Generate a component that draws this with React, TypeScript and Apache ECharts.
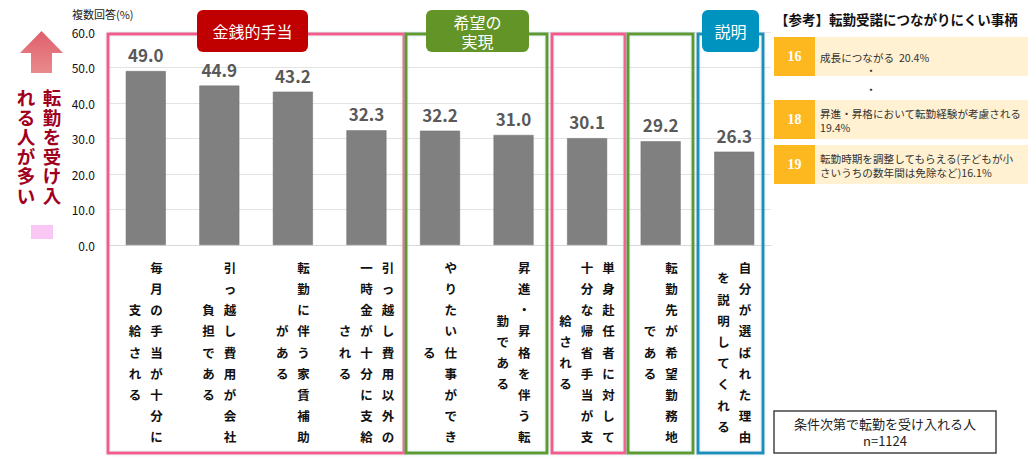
import React, { useEffect, useRef } from "react";
import * as echarts from "echarts";

const FONT = "'Noto Sans CJK JP', 'Noto Sans', sans-serif";

const CATEGORIES = [
  "毎月の手当が十分に支給される",
  "引っ越し費用が会社負担である",
  "転勤に伴う家賃補助がある",
  "引っ越し費用以外の一時金が十分に支給される",
  "やりたい仕事ができる",
  "昇進・昇格を伴う転勤である",
  "単身赴任者に対して十分な帰省手当が支給される",
  "転勤先が希望勤務地である",
  "自分が選ばれた理由を説明してくれる",
];
const VALUES = [49.0, 44.9, 43.2, 32.3, 32.2, 31.0, 30.1, 29.2, 26.3];

const GROUP_LABELS = ["金銭的手当", "希望の\n実現", "説明"];
const REF_TITLE = "【参考】転勤受諾につながりにくい事柄";
const REF_RANKS = ["16", "18", "19"];
const REF_TEXTS = [
  "成長につながる  20.4%",
  "昇進・昇格において転勤経験が考慮される\n19.4%",
  "転勤時期を調整してもらえる(子どもが小\nさいうちの数年間は免除など)16.1%",
];
const NOTE_TEXT = "条件次第で転勤を受け入れる人\nn=1124";
const SIDE_TEXT = ["転勤を受け入", "れる人が多い"];

// vertical writing: 9 chars per column, right column first, short columns centred
const COL_LEN = 9;
const toVertical = (s: string) => {
  const chars = Array.from(s);
  const cols: string[][] = [];
  for (let i = 0; i < chars.length; i += COL_LEN) cols.push(chars.slice(i, i + COL_LEN));
  const lines: string[] = [];
  for (let h = 0; h < COL_LEN * 2 - 1; h++) {
    let line = "";
    for (let c = cols.length - 1; c >= 0; c--) {
      const col = cols[c];
      const off = h - (COL_LEN - col.length);
      const ch = off >= 0 && off % 2 === 0 && off / 2 < col.length ? col[off / 2] : "\u3000";
      line += `{c|${ch}}`;
    }
    lines.push(line);
  }
  return lines.join("\n");
};

// frames round the category groups: [x, width, colour]
const FRAMES: [number, number, string][] = [
  [108, 296, "#f45a8d"],
  [406, 141, "#5f9a2a"],
  [552, 73, "#f45a8d"],
  [628, 65, "#5f9a2a"],
  [698, 65, "#1a90bd"],
];
const BADGES: [number, number, string][] = [
  [197, 111, "#c00000"],
  [426, 103, "#639427"],
  [702, 57, "#0093bf"],
];
const REF_ROWS_Y = [37, 100, 145];

export default function App() {
  const chartRef = useRef<HTMLDivElement>(null);

  useEffect(() => {
    if (!chartRef.current) return;
    const chart = echarts.init(chartRef.current, undefined, { renderer: "svg" });

    const graphic: any[] = [];
    FRAMES.forEach(([x, w, color]) => {
      graphic.push({
        type: "rect", z: 10,
        shape: { x, y: 34, width: w, height: 419 },
        style: { fill: "none", stroke: color, lineWidth: 3, shadowBlur: 3, shadowColor: "rgba(180,220,220,0.6)" },
      });
    });
    BADGES.forEach(([x, w, color], i) => {
      graphic.push({
        type: "rect", z: 20,
        shape: { x, y: 10, width: w, height: 42, r: 6 },
        style: { fill: color },
      });
      graphic.push({
        type: "text", z: 21, x: x + w / 2, y: 31,
        style: {
          text: GROUP_LABELS[i], fill: "#fff", font: `16px ${FONT}`, lineHeight: 19,
          textAlign: "center", textVerticalAlign: "middle",
        },
      });
    });

    // left side arrow and caption
    graphic.push({
      type: "polygon",
      shape: { points: [[20, 53], [41.5, 31], [63, 53], [52, 53], [52, 73], [31, 73], [31, 53]] },
      style: {
        fill: new echarts.graphic.LinearGradient(0, 0, 0, 1, [
          { offset: 0, color: "#df5f6c" },
          { offset: 1, color: "#e98a8c" },
        ]),
      },
    });
    SIDE_TEXT.forEach((t, i) => {
      graphic.push({
        type: "text", x: i === 0 ? 52 : 26, y: 87.5,
        style: {
          text: Array.from(t).join("\n"), fill: "#a0001e", font: `bold 18.5px ${FONT}`,
          lineHeight: 19.5, textAlign: "center",
          textShadowColor: "rgba(110,70,200,0.55)", textShadowOffsetX: 1, textShadowOffsetY: 1,
        },
      });
    });
    graphic.push({ type: "rect", shape: { x: 31, y: 225, width: 22, height: 14 }, style: { fill: "#fac6f4" } });
    graphic.push({
      type: "text", x: 72, y: 14,
      style: { text: "複数回答(%)", fill: "#222", font: `11px ${FONT}`, textVerticalAlign: "middle" },
    });

    // reference panel
    graphic.push({
      type: "text", x: 775, y: 19,
      style: { text: REF_TITLE, fill: "#111", font: `bold 13.5px ${FONT}`, textVerticalAlign: "middle" },
    });
    REF_RANKS.forEach((rank, i) => {
      const y = REF_ROWS_Y[i];
      graphic.push({ type: "rect", shape: { x: 815, y, width: 213, height: 39 }, style: { fill: "#fff1d2" } });
      graphic.push({ type: "rect", shape: { x: 774, y, width: 41, height: 39 }, style: { fill: "#fdb71f" } });
      graphic.push({
        type: "text", x: 794.5, y: y + 19.5,
        style: { text: rank, fill: "#fff", font: `bold 14px 'Liberation Serif', serif`, textAlign: "center", textVerticalAlign: "middle" },
      });
      graphic.push({
        type: "text", x: 820, y: y + 20,
        style: { text: REF_TEXTS[i], fill: "#333", font: `10.6px ${FONT}`, lineHeight: 14, textVerticalAlign: "middle" },
      });
    });
    [70, 89].forEach((y) => {
      graphic.push({
        type: "text", x: 871, y,
        style: { text: "・", fill: "#333", font: `11px ${FONT}`, textAlign: "center", textVerticalAlign: "middle" },
      });
    });

    // note box
    graphic.push({
      type: "rect", shape: { x: 774, y: 411, width: 222, height: 42 },
      style: { fill: "#fff", stroke: "#444", lineWidth: 1.5 },
    });
    graphic.push({
      type: "text", x: 885, y: 432,
      style: { text: NOTE_TEXT, fill: "#222", font: `13px ${FONT}`, lineHeight: 17, textAlign: "center", textVerticalAlign: "middle" },
    });

    chart.setOption({
      animation: false,
      backgroundColor: "#fff",
      textStyle: { fontFamily: FONT },
      grid: { left: 109, right: 265, top: 32, bottom: 225 },
      xAxis: {
        type: "category",
        data: CATEGORIES,
        axisLine: { lineStyle: { color: "#d9d9d9" } },
        axisTick: { show: false },
        axisLabel: {
          interval: 0,
          margin: 17,
          formatter: (v: string) => toVertical(v),
          rich: {
            c: { width: 21.5, align: "center", lineHeight: 10.6, fontSize: 12.5, fontWeight: "bold", color: "#111", fontFamily: FONT },
          },
        },
      },
      yAxis: {
        type: "value",
        min: 0,
        max: 60,
        interval: 10,
        axisLabel: { color: "#111", fontSize: 12, margin: 14, formatter: (v: number) => v.toFixed(1) },
        splitLine: { lineStyle: { color: "#e3e3e3" } },
      },
      series: [
        {
          type: "bar",
          data: VALUES,
          barWidth: 40,
          itemStyle: { color: "#808080", borderColor: "#6e6e6e", borderWidth: 0.5 },
          label: {
            show: true,
            position: "top",
            distance: 8,
            color: "#595959",
            fontSize: 17,
            fontWeight: "bold",
            formatter: (p: any) => p.value.toFixed(1),
          },
        },
      ],
      graphic,
    });

    return () => chart.dispose();
  }, []);

  return <div ref={chartRef} style={{ position: "absolute", left: 0, top: 0, width: 1036, height: 470 }} />;
}
